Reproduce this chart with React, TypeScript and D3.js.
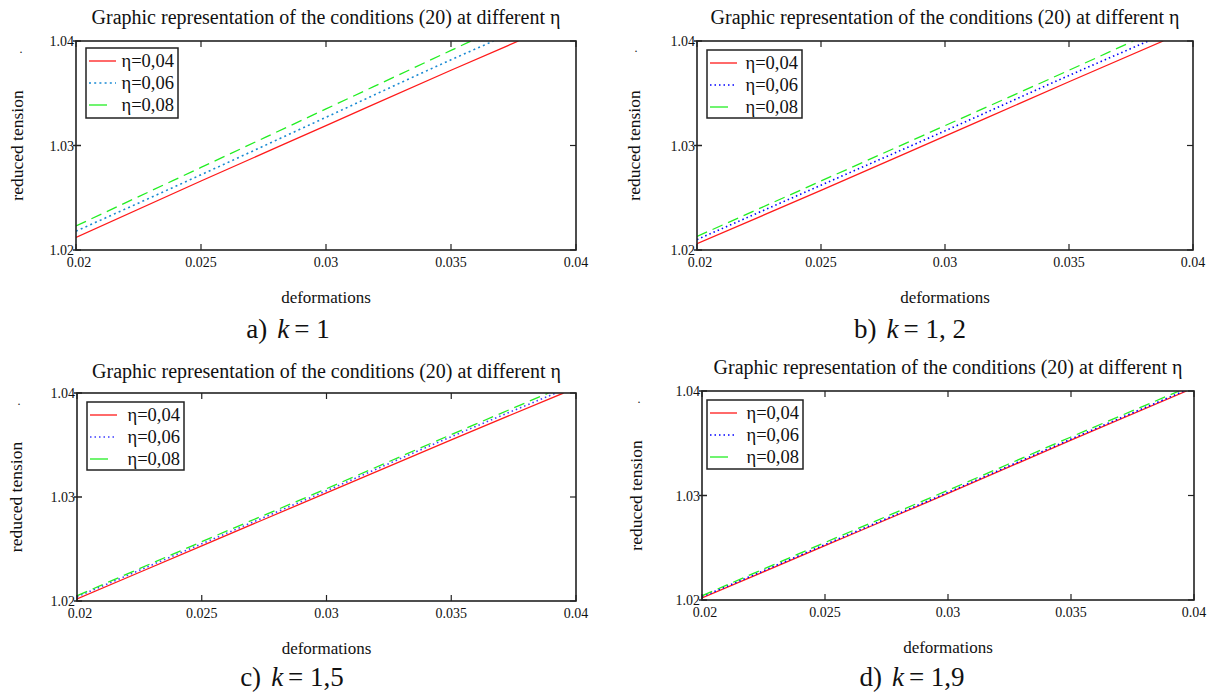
import * as d3 from 'd3'

// reduced tension vs deformations, k = 1 / 1.2 / 1.5 / 1.9
const etaLabels = ['η=0,04', 'η=0,06', 'η=0,08']
const xTicks = [0.02, 0.025, 0.03, 0.035, 0.04]
const yTicks = [1.02, 1.03, 1.04]
const captionLetters = ['a)', 'b)', 'c)', 'd)']
const kValues = ['1', '1, 2', '1,5', '1,9']

type Pt = [number, number]

const aEta04: Pt[] = [[0.02, 1.0212], [0.025, 1.0266], [0.03, 1.0319], [0.035, 1.0372], [0.0377, 1.04]]
const aEta06: Pt[] = [[0.02, 1.0218], [0.025, 1.0272], [0.03, 1.0327], [0.035, 1.0382], [0.0367, 1.04]]
const aEta08: Pt[] = [[0.02, 1.0223], [0.025, 1.0279], [0.03, 1.0335], [0.035, 1.0391], [0.0358, 1.04]]

const bEta04: Pt[] = [[0.02, 1.0206], [0.025, 1.0257], [0.03, 1.0309], [0.035, 1.0361], [0.0388, 1.04]]
const bEta06: Pt[] = [[0.02, 1.021], [0.025, 1.0262], [0.03, 1.0314], [0.035, 1.0367], [0.0382, 1.04]]
const bEta08: Pt[] = [[0.02, 1.0213], [0.025, 1.0266], [0.03, 1.0319], [0.035, 1.0372], [0.0376, 1.04]]

const cEta04: Pt[] = [[0.02, 1.0202], [0.025, 1.0253], [0.03, 1.0304], [0.035, 1.0355], [0.0395, 1.04]]
const cEta06: Pt[] = [[0.02, 1.0204], [0.025, 1.0255], [0.03, 1.0306], [0.035, 1.0358], [0.0392, 1.04]]
const cEta08: Pt[] = [[0.02, 1.0205], [0.025, 1.0257], [0.03, 1.0308], [0.035, 1.036], [0.0389, 1.04]]

const dEta04: Pt[] = [[0.02, 1.0202], [0.025, 1.0252], [0.03, 1.0302], [0.035, 1.0353], [0.0397, 1.04]]
const dEta06: Pt[] = [[0.02, 1.0203], [0.025, 1.0253], [0.03, 1.0303], [0.035, 1.0354], [0.0396, 1.04]]
const dEta08: Pt[] = [[0.02, 1.0204], [0.025, 1.0255], [0.03, 1.0305], [0.035, 1.0356], [0.0394, 1.04]]

const panelSeries = [
  [aEta04, aEta06, aEta08],
  [bEta04, bEta06, bEta08],
  [cEta04, cEta06, cEta08],
  [dEta04, dEta06, dEta08],
]

const SERIF = '"Liberation Serif", "Times New Roman", serif'

// layout per panel (pixels)
const layouts = [
  { x0: 76, x1: 576, y0: 41, y1: 250, titleY: 24, capX: 288, capY: 338, blue: '#1a8ad4', blueDash: '2,3.2', legend: [86, 48, 92, 70], labelX: 17, dot: [21, 53] },
  { x0: 697, x1: 1193, y0: 41, y1: 250, titleY: 24, capX: 910, capY: 338, blue: '#0000ff', blueDash: '1.5,3', legend: [707, 50, 95, 68], labelX: 634, dot: [636, 52] },
  { x0: 77, x1: 576, y0: 393, y1: 601, titleY: 378, capX: 292, capY: 686, blue: '#3c3cff', blueDash: '1.5,3', legend: [87, 402, 97, 68], labelX: 16, dot: [19, 405] },
  { x0: 702, x1: 1194, y0: 391, y1: 600, titleY: 374, capX: 912, capY: 686, blue: '#0000ff', blueDash: '1.5,3', legend: [707, 400, 96, 69], labelX: 636, dot: [639, 403] },
]

function Panel({ idx }: { idx: number }) {
  const L = layouts[idx]
  const series = panelSeries[idx]
  const x = d3.scaleLinear().domain([0.02, 0.04]).range([L.x0, L.x1])
  const y = d3.scaleLinear().domain([1.02, 1.04]).range([L.y1, L.y0])
  const line = d3.line<Pt>().x((d) => x(d[0])).y((d) => y(d[1])).curve(d3.curveMonotoneX)
  const colors = ['#ff1a1a', L.blue, '#22ee22']
  const dashes = [null, L.blueDash, '11,6']
  const cx = (L.x0 + L.x1) / 2
  const cy = (L.y0 + L.y1) / 2
  const [lx, ly, lw, lh] = L.legend
  const clipId = `clip-${idx}`

  return (
    <g fontFamily={SERIF} fill="#111">
      <defs>
        <clipPath id={clipId}>
          <rect x={L.x0} y={L.y0} width={L.x1 - L.x0} height={L.y1 - L.y0} />
        </clipPath>
      </defs>
      <text x={cx} y={L.titleY} textAnchor="middle" fontSize={20}>
        Graphic representation of the conditions (20) at different η
      </text>

      <g clipPath={`url(#${clipId})`}>
        {series.map((s, i) => (
          <path key={i} d={line(s) || ''} fill="none" stroke={colors[i]} strokeWidth={i === 1 ? 1.6 : 1.3}
            strokeDasharray={dashes[i] || undefined} />
        ))}
      </g>

      {/* ticks */}
      {xTicks.map((t) => (
        <g key={t}>
          <line x1={x(t)} x2={x(t)} y1={L.y0} y2={L.y0 + 6} stroke="#222" strokeWidth={1.2} />
          <line x1={x(t)} x2={x(t)} y1={L.y1} y2={L.y1 - 6} stroke="#222" strokeWidth={1.2} />
          <text x={t === 0.02 ? x(t) + 3 : x(t)} y={L.y1 + 17} textAnchor="middle" fontSize={14}>{String(t)}</text>
        </g>
      ))}
      {yTicks.map((t) => (
        <g key={t}>
          <line x1={L.x0 - 3} x2={L.x0 + 5} y1={y(t)} y2={y(t)} stroke="#222" strokeWidth={1.5} />
          <line x1={L.x1} x2={L.x1 - 6} y1={y(t)} y2={y(t)} stroke="#222" strokeWidth={1.2} />
          <text x={L.x0 - 2} y={y(t) + 5} textAnchor="end" fontSize={14}>{t.toFixed(2)}</text>
        </g>
      ))}
      <rect x={L.x0} y={L.y0} width={L.x1 - L.x0} height={L.y1 - L.y0} fill="none" stroke="#222" strokeWidth={1.6} />

      {/* legend */}
      <rect x={lx} y={ly} width={lw} height={lh} fill="#fff" stroke="#222" strokeWidth={1.5} />
      {etaLabels.map((lab, i) => {
        const ry = ly + 13 + i * 22
        return (
          <g key={lab}>
            <line x1={lx + 3} x2={lx + (i === 2 ? 21 : 30)} y1={ry} y2={ry} stroke={colors[i]}
              strokeWidth={i === 1 ? 1.6 : 1.3} strokeDasharray={i === 1 ? L.blueDash : undefined} />
            <text x={lx + lw - 4} y={ry + 6} textAnchor="end" fontSize={18.5}>{lab}</text>
          </g>
        )
      })}

      {/* axis titles */}
      <text x={cx} y={L.y1 + 53} textAnchor="middle" fontSize={17}>deformations</text>
      <text transform={`translate(${L.labelX},${cy}) rotate(-90)`} textAnchor="middle" fontSize={17.5} dy="0.35em">reduced tension</text>
      <text x={L.dot[0]} y={L.dot[1]} textAnchor="middle" fontSize={12}>.</text>

      {/* caption */}
      <text x={L.capX} y={L.capY} textAnchor="middle" fontSize={27}>
        <tspan>{captionLetters[idx]}</tspan>
        <tspan dx={10} fontStyle="italic">k</tspan>
        <tspan dx={5}>= {kValues[idx]}</tspan>
      </text>
    </g>
  )
}

export default function App() {
  return (
    <svg width={1214} height={694} style={{ position: 'absolute', left: 0, top: 0, background: '#fff' }}>
      <rect width={1214} height={694} fill="#fff" />
      {[0, 1, 2, 3].map((i) => (
        <Panel key={i} idx={i} />
      ))}
    </svg>
  )
}
